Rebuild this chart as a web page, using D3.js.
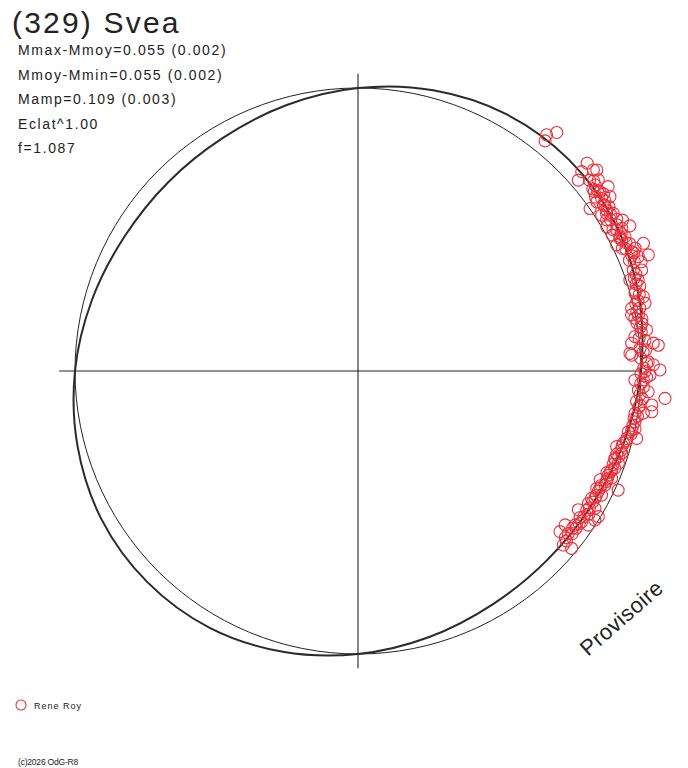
<!DOCTYPE html>
<html>
<head>
<meta charset="utf-8">
<script src="https://cdn.jsdelivr.net/npm/d3@7"></script>
<style>
  body { margin: 0; background: #fff; }
  text { font-family: "Liberation Sans", Arial, sans-serif; fill: #222; }
</style>
</head>
<body>
<div id="chart"></div>
<script>
// Texte
var title = "(329) Svea";
var infoLines = ["Mmax-Mmoy=0.055 (0.002)", "Mmoy-Mmin=0.055 (0.002)", "Mamp=0.109 (0.003)", "Eclat^1.00", "f=1.087"];
var observer = "Rene Roy";
var footer = "(c)2026 OdG-R8";
var stamp = "Provisoire";

// courbe ajustee : angle (deg) -> rayon relatif
var fitAngles = [0, 15, 30, 45, 60, 75, 90, 105, 120, 135, 150, 165, 180, 195, 210, 225, 240, 255, 270, 285, 300, 315, 330, 345];
var fitRadii  = [1.000, 1.027, 1.048, 1.055, 1.048, 1.027, 1.000, 0.973, 0.952, 0.946, 0.952, 0.973, 1.000, 1.026, 1.047, 1.054, 1.048, 1.027, 1.000, 0.973, 0.952, 0.945, 0.952, 0.973];

// observations : angle (deg) et rayon relatif
var obsAngles = [51.4, 50.2, 50.9, 42.2, 41.7, 40.9, 40.5, 40.1, 38.5, 36.4, 38.1, 36.5, 35.0, 35.3, 35.3, 34.1, 32.9, 31.7, 32.6, 31.3,
  29.7, 28.1, 28.6, 28.1, 26.9, 26.7, 26.0, 24.9, 24.1, 23.9, 21.8, 22.2, 23.6, 22.2, 21.1, 34.7, 37.2, 30.1, 20.1, 19.6,
  18.5, 18.0, 15.7, 14.6, 12.9, 12.0, 13.3, 10.8, 9.5, 8.1, 7.1, 5.4, 5.8, 4.6, 3.3, 1.8, 1.2, 0.2, -0.1, -1.9,
  -1.8, -0.8, -3.9, -4.1, -5.1, -6.9, -6.6, 11.6, 4.9, 3.7, -8.7, -8.4, -7.9, -10.4, -12.7, -13.6, -14.1, -16.3, -17.3, -18.8,
  -19.5, -21.3, -22.6, -24.6, -24.2, -24.8, -26.2, -27.0, -28.6, -29.9, -30.1, -31.3, -31.2, -34.0, -33.8, -35.4, -36.6, -38.5, -37.7, -40.3,
  -39.7, -32.2, -15.2, -22.9, -32.2,
  39.5, 38.9, 37.8, 37.0, 36.2, 35.8, 34.6, 33.8, 33.2, 32.4, 31.8, 30.9, 30.4, 29.5, 29.0, 28.4, 27.6, 27.2, 26.4, 25.6,
  25.1, 24.5, 23.2, 22.8, 21.6, 19.2, 18.6, 17.4, 16.8, 16.1, 15.2, 14.1, 13.6, 12.6, 11.2, 10.4, 9.8, 8.9, 7.8, 6.6,
  6.1, 4.2, 3.8, 2.6, 1.5, 0.6, -0.5, -1.2, -2.6, -3.2, -4.8, -5.6, -6.2, -7.4, -9.2, -9.8, -11.2, -11.8, -12.2, -13.0,
  -14.6, -15.8, -16.8, -17.8, -18.2, -19.0, -20.1, -20.8, -21.8, -22.2, -23.4, -24.0, -25.2, -25.8, -26.6, -27.6, -28.2, -29.2, -30.6, -31.8,
  -32.8, -33.4, -34.6, -35.8, -36.2, -37.2, -38.8, -39.2];
var obsRadii = [1.068, 1.097, 1.048, 1.093, 1.059, 1.030, 1.094, 1.103, 1.085, 1.098, 1.065, 1.064, 1.001, 1.055, 1.034, 1.047, 1.047, 1.060, 1.022, 1.028,
  1.076, 1.089, 1.041, 1.019, 1.038, 1.056, 1.017, 1.030, 1.105, 1.071, 1.105, 1.070, 1.055, 1.036, 1.072, 1.083, 1.048, 1.016, 1.036, 1.064,
  1.013, 1.041, 1.017, 1.042, 0.992, 1.007, 1.042, 0.996, 1.017, 1.030, 0.986, 1.048, 0.972, 1.000, 0.969, 1.026, 1.044, 1.067, 1.014, 0.979,
  1.009, 1.032, 0.993, 1.028, 1.089, 1.004, 1.045, 0.987, 1.065, 0.963, 0.990, 1.019, 1.048, 0.995, 0.979, 1.013, 0.979, 0.952, 0.976, 0.959,
  0.976, 0.962, 0.958, 1.011, 0.938, 0.961, 0.940, 0.966, 0.940, 0.939, 0.968, 0.946, 0.993, 0.953, 0.979, 0.940, 0.912, 0.912, 0.939, 0.951,
  0.981, 0.989, 0.972, 0.973, 0.920,
  1.06, 1.07, 1.05, 1.06, 1.04, 1.07, 1.06, 1.05, 1.06, 1.04, 1.05, 1.04, 1.06, 1.05, 1.03, 1.06, 1.05, 1.04, 1.04, 1.05,
  1.06, 1.04, 1.06, 1.05, 1.05, 1.04, 1.03, 1.03, 1.04, 1.02, 1.03, 1.02, 1.01, 1.02, 1.01, 1.02, 1.00, 1.01, 1.01, 1.00,
  1.02, 1.02, 1.01, 1.00, 1.02, 1.01, 1.00, 1.02, 1.00, 1.01, 1.00, 1.01, 0.99, 1.00, 1.00, 0.99, 0.99, 1.00, 0.99, 0.99,
  0.98, 0.97, 0.97, 0.96, 0.97, 0.96, 0.96, 0.97, 0.96, 0.95, 0.96, 0.96, 0.95, 0.95, 0.95, 0.95, 0.95, 0.95, 0.95, 0.96,
  0.95, 0.94, 0.95, 0.95, 0.94, 0.95, 0.94, 0.95];

var width = 688, height = 768;
var cx = 358, cy = 371;

var svg = d3.select("#chart").append("svg")
  .attr("width", width)
  .attr("height", height);

svg.append("rect").attr("width", width).attr("height", height).attr("fill", "#fff");

var r = d3.scaleLinear().domain([0, 1]).range([0, 283]);
// angle math (deg, sens trigo) -> angle d3 (rad, depuis midi)
var ang = function(d) { return (90 - d) * Math.PI / 180; };

var g = svg.append("g").attr("transform", "translate(" + cx + "," + cy + ")");

// axes
g.append("line")
  .attr("x1", -r(1.056)).attr("y1", 0)
  .attr("x2", r(1.0)).attr("y2", 0)
  .attr("stroke", "#222").attr("stroke-width", 1.1);
g.append("line")
  .attr("x1", 0).attr("y1", -r(1.05))
  .attr("x2", 0).attr("y2", r(1.05))
  .attr("stroke", "#222").attr("stroke-width", 1.1);

// cercle de reference
g.append("circle")
  .attr("r", r(1))
  .attr("fill", "none")
  .attr("stroke", "#222")
  .attr("stroke-width", 1);

// courbe ajustee
var fit = fitAngles.map(function(a, i) { return [a, fitRadii[i]]; });
var line = d3.lineRadial()
  .angle(function(d) { return ang(d[0]); })
  .radius(function(d) { return r(d[1]); })
  .curve(d3.curveCatmullRomClosed);

g.append("path")
  .datum(fit)
  .attr("d", line)
  .attr("fill", "none")
  .attr("stroke", "#2a2a2a")
  .attr("stroke-width", 2);

// observations
var obs = obsAngles.map(function(a, i) { return [a, obsRadii[i]]; });
g.selectAll("circle.obs")
  .data(obs)
  .enter()
  .append("circle")
    .attr("class", "obs")
    .attr("cx", function(d) { return d3.pointRadial(ang(d[0]), r(d[1]))[0]; })
    .attr("cy", function(d) { return d3.pointRadial(ang(d[0]), r(d[1]))[1]; })
    .attr("r", 6)
    .attr("fill", "none")
    .attr("stroke", "#ec2f3a")
    .attr("stroke-width", 1.1);

// titre et infos
svg.append("text")
  .attr("x", 12).attr("y", 33)
  .attr("font-size", 30)
  .attr("letter-spacing", 2.2)
  .text(title);

svg.selectAll("text.info")
  .data(infoLines)
  .enter()
  .append("text")
    .attr("class", "info")
    .attr("x", 18)
    .attr("y", function(d, i) { return 55 + i * 24.6; })
    .attr("font-size", 14)
    .attr("letter-spacing", 1.6)
    .text(function(d) { return d; });

// mention provisoire
svg.append("text")
  .attr("transform", "translate(588,657) rotate(-41)")
  .attr("font-size", 22)
  .attr("letter-spacing", 0.4)
  .text(stamp);

// legende
svg.append("circle")
  .attr("cx", 21).attr("cy", 705).attr("r", 5)
  .attr("fill", "none").attr("stroke", "#ec2f3a").attr("stroke-width", 1.1);
svg.append("text")
  .attr("x", 34).attr("y", 709)
  .attr("font-size", 9)
  .attr("letter-spacing", 1)
  .text(observer);

svg.append("text")
  .attr("x", 18).attr("y", 765)
  .attr("font-size", 8.5)
  .attr("letter-spacing", -0.2)
  .text(footer);
</script>
</body>
</html>
